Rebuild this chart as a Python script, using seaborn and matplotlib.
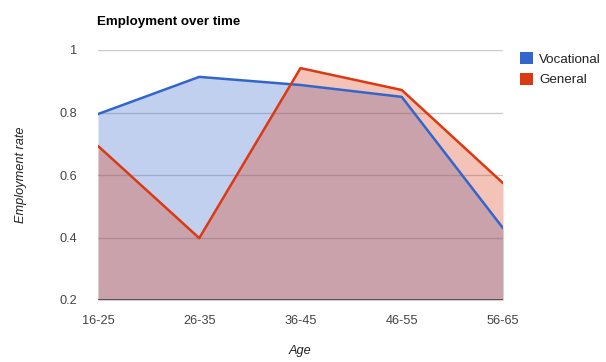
import numpy as np
import pandas as pd
import seaborn as sns
import matplotlib.pyplot as plt
from matplotlib.patches import Patch

ages = ['16-25', '26-35', '36-45', '46-55', '56-65']
vocational = [0.795, 0.914, 0.888, 0.850, 0.430]
general = [0.693, 0.398, 0.942, 0.872, 0.574]

blue = '#3366cc'
red = '#dc3912'

sns.set_theme(style="white")
plt.rcParams['font.family'] = ['Liberation Sans', 'DejaVu Sans']

df = pd.DataFrame({'age': ages, 'x': np.arange(len(ages)),
                   'Vocational': vocational, 'General': general})

fig = plt.figure(figsize=(6.06, 3.62), dpi=100)
ax = fig.add_axes([98 / 606, 1 - 300 / 362, 405 / 606, 250 / 362])

for yv in [0.4, 0.6, 0.8, 1.0]:
    ax.axhline(yv, color='#cccccc', linewidth=1, zorder=0)

ax.fill_between(df['x'], 0.2, df['Vocational'], color=blue, alpha=0.3, linewidth=0, zorder=1)
ax.fill_between(df['x'], 0.2, df['General'], color=red, alpha=0.3, linewidth=0, zorder=2)
sns.lineplot(data=df, x='x', y='Vocational', color=blue, linewidth=1.8, ax=ax, zorder=3)
sns.lineplot(data=df, x='x', y='General', color=red, linewidth=1.8, ax=ax, zorder=4)
ax.axhline(0.2, color='#444444', linewidth=1.2, zorder=5)

ax.set_xlim(0, len(ages) - 1)
ax.set_ylim(0.2, 1.0)
ax.set_xticks(df['x'])
ax.set_xticklabels(ages)
ax.set_yticks([0.2, 0.4, 0.6, 0.8, 1.0])
ax.set_yticklabels(['0.2', '0.4', '0.6', '0.8', '1'])
ax.tick_params(axis='both', length=0, labelsize=9.2, labelcolor='#444444')
ax.tick_params(axis='x', pad=11)
ax.tick_params(axis='y', pad=15)
for s in ax.spines.values():
    s.set_visible(False)
ax.set_xlabel('')
ax.set_ylabel('')

fig.text(97 / 606, 1 - 22 / 362, 'Employment over time', fontsize=9.6, fontweight='bold',
         color='#000000', va='center', ha='left')
fig.text(21 / 606, 1 - 175 / 362, 'Employment rate', fontsize=9.2, style='italic',
         color='#222222', rotation=90, va='center', ha='center')
fig.text(300 / 606, 1 - 351 / 362, 'Age', fontsize=9.2, style='italic',
         color='#222222', va='center', ha='center')

handles = [Patch(facecolor=blue, edgecolor='none', label='Vocational'),
           Patch(facecolor=red, edgecolor='none', label='General')]
fig.legend(handles=handles, loc='upper left', bbox_to_anchor=(508 / 606, 1 - 40 / 362),
           frameon=False, fontsize=9.6, handlelength=1.0, handleheight=1.0,
           handletextpad=0.45, labelspacing=0.55, labelcolor='#222222')

fig.savefig('out.png', dpi=100)
